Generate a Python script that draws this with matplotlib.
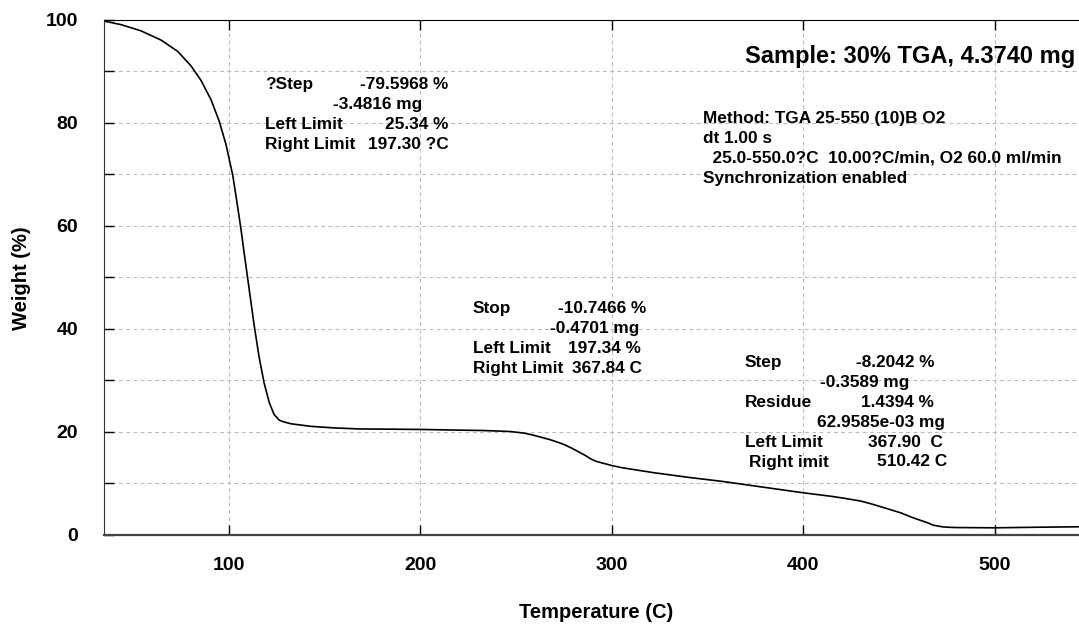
import matplotlib
matplotlib.use('Agg')
import matplotlib.pyplot as plt

# ---- data ----
temperature = [35, 43.9, 54.3, 64.8, 73.5, 80.4, 85.6, 90.9, 95.2, 98.7, 102.2,
               104.5, 106.5, 108.2, 110.8, 113.4, 116, 118.6, 121.3, 123.8, 126.5,
               128.5, 132.6, 143, 155, 168, 185, 200, 215, 232, 240, 247, 254, 258,
               261, 265, 268, 272, 275, 279, 282, 286, 289, 292, 295, 300, 305, 310,
               316, 322, 340, 358, 378, 400, 415, 422, 430, 436, 444, 451, 457, 465,
               468, 472.5, 476, 480, 500, 520, 544]
weight = [99.7, 99.0, 97.8, 96.0, 93.8, 91.0, 88.2, 84.4, 80.2, 75.7, 69.8,
          64.3, 59.3, 54.6, 47.6, 40.6, 34.4, 29.4, 25.6, 23.3, 22.2,
          21.9, 21.5, 21.0, 20.7, 20.5, 20.45, 20.4, 20.3, 20.2, 20.1, 20.0, 19.7, 19.4,
          19.1, 18.7, 18.4, 17.9, 17.5, 16.8, 16.2, 15.4, 14.7, 14.2, 13.9, 13.4, 13.0, 12.7,
          12.35, 12.0, 11.1, 10.3, 9.25, 8.1, 7.4, 7.0, 6.5, 5.9, 5.0, 4.2, 3.3, 2.27,
          1.8, 1.5, 1.4, 1.35, 1.3, 1.4, 1.5]

x_ticks = [100, 200, 300, 400, 500]
y_ticks = [0, 10, 20, 30, 40, 50, 60, 70, 80, 90, 100]
y_tick_labels = ['0', '', '20', '', '40', '', '60', '', '80', '', '100']

title_text = 'Sample: 30% TGA, 4.3740 mg'
method_lines = ['Method: TGA 25-550 (10)B O2', 'dt 1.00 s',
                '  25.0-550.0?C  10.00?C/min, O2 60.0 ml/min',
                'Synchronization enabled']

FONT = 'Liberation Sans'
plt.rcParams['font.family'] = [FONT, 'DejaVu Sans']
plt.rcParams['font.weight'] = 'bold'

W_PX, H_PX = 1079, 624
fig = plt.figure(figsize=(W_PX / 100, H_PX / 100), dpi=100)
ax = fig.add_axes([104 / W_PX, 1 - 534.5 / H_PX, 1 - 104 / W_PX, (534.5 - 19.5) / H_PX])

ax.plot(temperature, weight, color='black', lw=1.2)
ax.set_xlim(35, 544)
ax.set_ylim(0, 100)

ax.set_xticks(x_ticks)
ax.set_xticklabels([str(t) for t in x_ticks])
ax.set_yticks(y_ticks)
ax.set_yticklabels(y_tick_labels)
ax.tick_params(axis='both', direction='in', length=7.2, width=1, labelsize=14, top=True)
ax.tick_params(axis='y', pad=18.7)
ax.tick_params(axis='x', pad=16.5)
for lab in ax.get_xticklabels() + ax.get_yticklabels():
    lab.set_fontweight('bold')

ax.grid(True, ls=(0, (3.5, 3)), color='#bcbcbc', lw=0.8)
ax.spines['right'].set_visible(False)
ax.spines['left'].set_color('#333333')
ax.spines['bottom'].set_color('#444444')
ax.spines['bottom'].set_linewidth(1.6)

ax.set_xlabel('Temperature (C)', fontsize=14.5, fontweight='bold', va='center')
ax.xaxis.set_label_coords((596 - 104) / 975, (534.5 - 613) / 515)
ax.set_ylabel('Weight (%)', fontsize=14.5, fontweight='bold', va='center')
ax.yaxis.set_label_coords((22 - 104) / 975, (534.5 - 278) / 515)


def ptext(x, y, s, ha='left', size=12.4):
    fig.text(x / W_PX, 1 - y / H_PX, s, ha=ha, va='baseline',
             fontsize=size, fontweight='bold')


ptext(745, 63, title_text, size=17)
for i, line in enumerate(method_lines):
    ptext(703, 122.7 + 20 * i, line)

# block 1
ptext(265, 89.3, '?Step')
ptext(448, 89.3, '-79.5968 %', ha='right')
ptext(333, 109.3, '-3.4816 mg')
ptext(265, 129.3, 'Left Limit')
ptext(448, 129.3, '25.34 %', ha='right')
ptext(265, 149.3, 'Right Limit')
ptext(368, 149.3, '197.30 ?C')

# block 2
ptext(473, 313.3, 'Stop')
ptext(558, 313.3, '-10.7466 %')
ptext(550, 333, '-0.4701 mg')
ptext(473, 352.7, 'Left Limit')
ptext(568, 352.7, '197.34 %')
ptext(473, 372.7, 'Right Limit')
ptext(572, 372.7, '367.84 C')

# block 3
ptext(745, 367.3, 'Step')
ptext(934, 367.3, '-8.2042 %', ha='right')
ptext(820, 386.7, '-0.3589 mg')
ptext(745, 406.7, 'Residue')
ptext(934, 406.7, '1.4394 %', ha='right')
ptext(817, 426.7, '62.9585e-03 mg')
ptext(745, 446.7, 'Left Limit')
ptext(868, 446.7, '367.90  C')
ptext(749, 466.5, 'Right imit')
ptext(877, 466.5, '510.42 C')

fig.savefig('out.png', dpi=100)
